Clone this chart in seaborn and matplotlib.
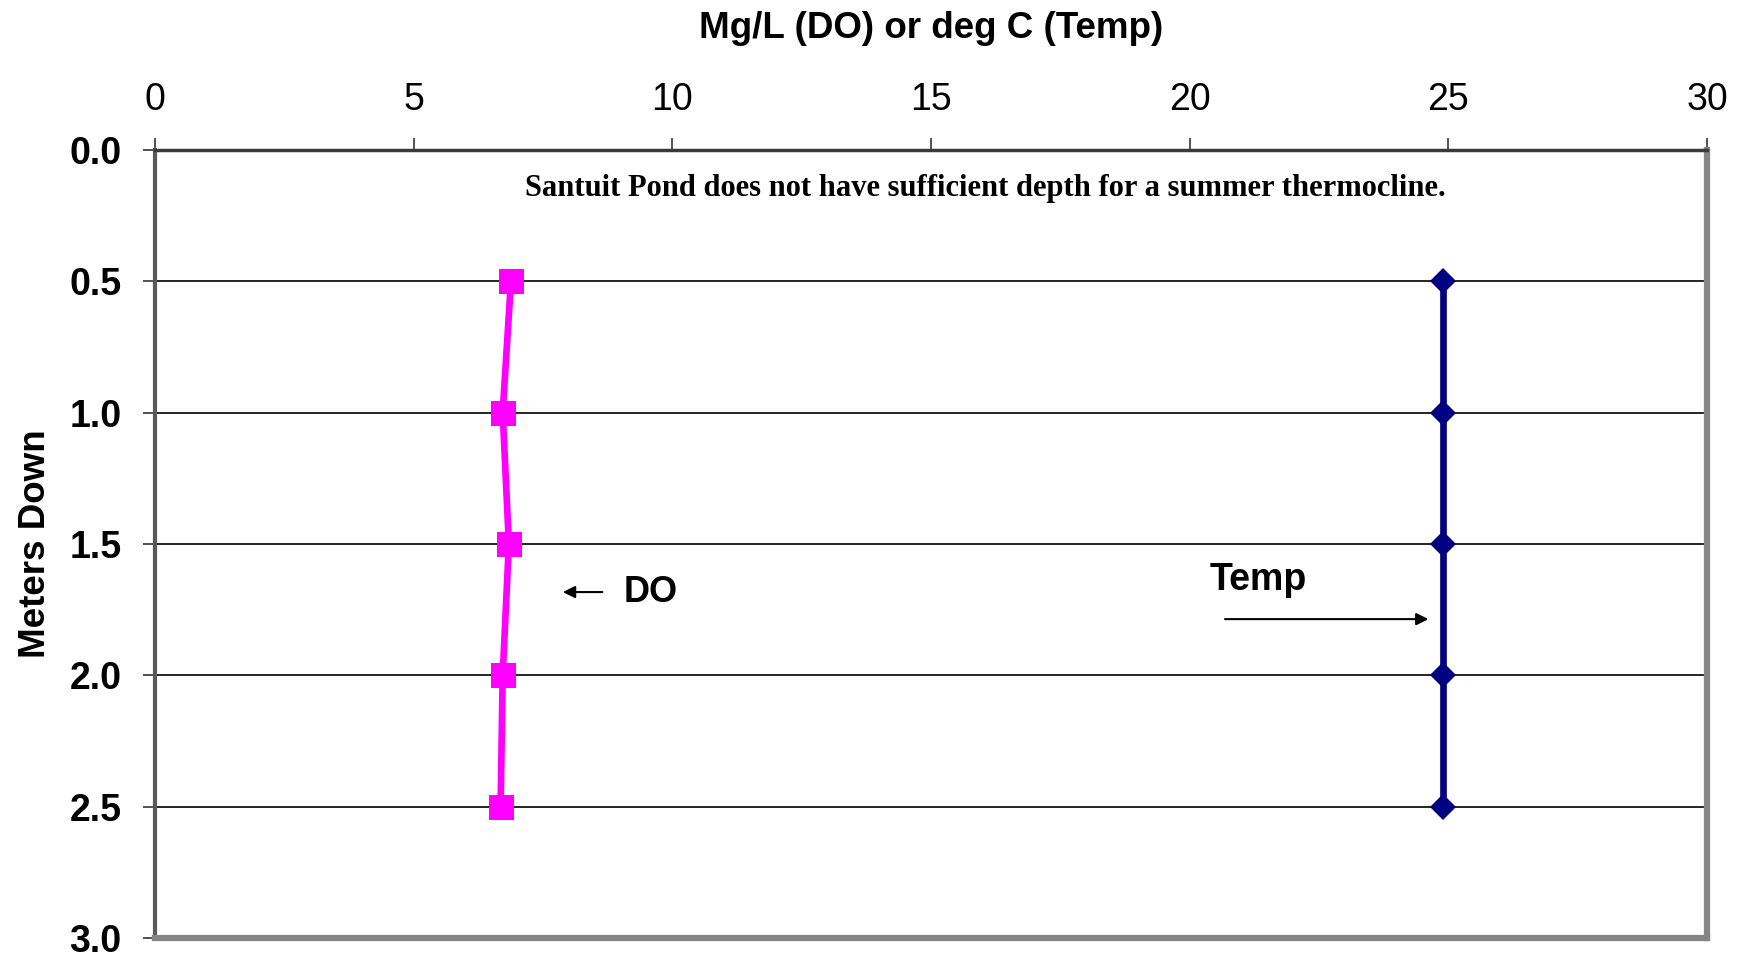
import pandas as pd
import matplotlib.pyplot as plt
import seaborn as sns
from matplotlib.ticker import FormatStrFormatter

# Depth profile values
depth_m = [0.5, 1.0, 1.5, 2.0, 2.5]
do_mg_l = [6.88, 6.72, 6.84, 6.72, 6.68]
temp_c = [24.9, 24.9, 24.9, 24.9, 24.9]

x_ticks = [0, 5, 10, 15, 20, 25, 30]
y_ticks = [0.0, 0.5, 1.0, 1.5, 2.0, 2.5, 3.0]

note = "Santuit Pond does not have sufficient depth for a summer thermocline."


def main():
    sns.set_theme(style="white")
    plt.rcParams['font.family'] = ['Liberation Sans', 'DejaVu Sans']
    plt.rcParams['text.color'] = 'black'
    plt.rcParams['axes.labelcolor'] = 'black'
    plt.rcParams['xtick.color'] = 'black'
    plt.rcParams['ytick.color'] = 'black'

    df = pd.DataFrame({'depth': depth_m, 'DO': do_mg_l, 'Temp': temp_c})

    fig = plt.figure(figsize=(17.5, 9.58), dpi=100)
    ax = fig.add_axes([0.0886, 0.0209, 0.8868, 0.8225])

    # estimator=None so every reading is drawn as-is, in depth order
    sns.lineplot(data=df, x='DO', y='depth', sort=False, estimator=None,
                 ax=ax, color='#FF00FF', linewidth=4.8, marker='s',
                 markersize=18, markeredgewidth=0, zorder=4)
    sns.lineplot(data=df, x='Temp', y='depth', sort=False, estimator=None,
                 ax=ax, color='#000080', linewidth=4.8, marker='D',
                 markersize=13, markeredgewidth=0, zorder=4)

    ax.set_xlim(0, 30)
    ax.set_ylim(3.0, 0.0)
    ax.set_xticks(x_ticks)
    ax.set_yticks(y_ticks)
    ax.yaxis.set_major_formatter(FormatStrFormatter('%.1f'))
    ax.xaxis.tick_top()
    ax.xaxis.set_label_position('top')

    ax.tick_params(axis='x', which='major', direction='out', length=9,
                   width=1.2, color='#333333', pad=14, labelsize=27,
                   top=True, bottom=False)
    ax.tick_params(axis='y', which='major', direction='out', length=9,
                   width=1.2, color='#333333', pad=15, labelsize=27,
                   left=True)
    for lbl in ax.get_yticklabels():
        lbl.set_fontweight('bold')

    ax.grid(axis='y', color='black', linewidth=1.2)
    ax.grid(axis='x', visible=False)

    ax.spines['top'].set_color('#3a3a3a')
    ax.spines['top'].set_linewidth(2.5)
    ax.spines['left'].set_color('#5a5a5a')
    ax.spines['left'].set_linewidth(3)
    ax.spines['right'].set_color('#858585')
    ax.spines['right'].set_linewidth(4.5)
    ax.spines['bottom'].set_color('#858585')
    ax.spines['bottom'].set_linewidth(4.5)

    ax.set_xlabel('Mg/L (DO) or deg C (Temp)', fontsize=26.5,
                  fontweight='bold', labelpad=32)
    ax.set_ylabel('Meters Down', fontsize=26.5, fontweight='bold',
                  labelpad=12)

    ax.text(16.05, 0.145, note, ha='center', va='center', fontsize=22,
            fontweight='bold', family=['Liberation Serif', 'DejaVu Serif'])

    # series labels with arrows
    ax.text(9.59, 1.683, 'DO', ha='center', va='center', fontsize=26,
            fontweight='bold')
    ax.annotate('', xy=(7.83, 1.683), xytext=(8.7, 1.683),
                arrowprops=dict(arrowstyle='-|>', color='black', lw=1.5,
                                mutation_scale=18))
    ax.text(21.32, 1.637, 'Temp', ha='center', va='center', fontsize=27,
            fontweight='bold')
    ax.annotate('', xy=(24.67, 1.786), xytext=(20.63, 1.786),
                arrowprops=dict(arrowstyle='-|>', color='black', lw=1.5,
                                mutation_scale=18))

    fig.savefig('out.png', dpi=100)
    plt.close(fig)


if __name__ == "__main__":
    main()
